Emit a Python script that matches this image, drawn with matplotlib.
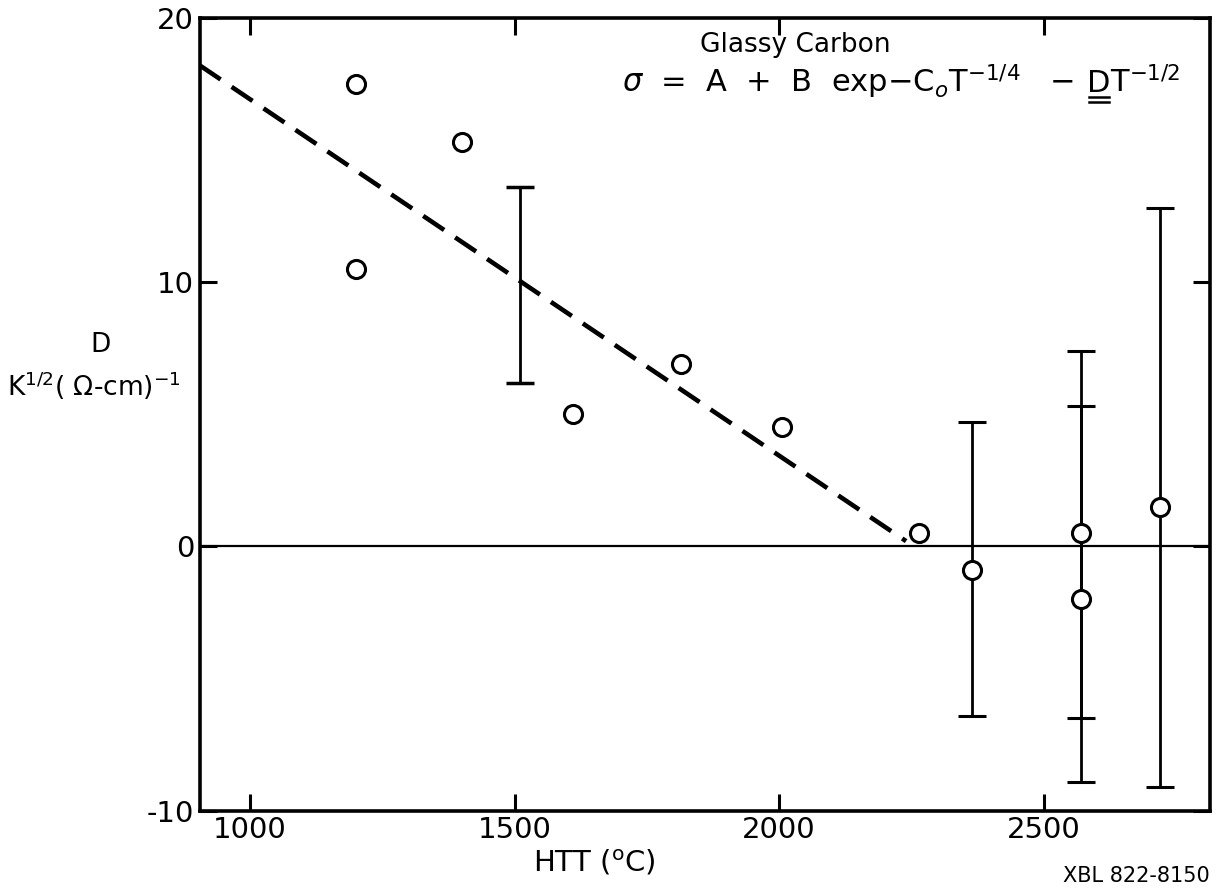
import matplotlib
matplotlib.use('Agg')
import matplotlib.pyplot as plt
from matplotlib.lines import Line2D

# HTT (C) and D values
htt_open = [1200, 1200, 1400, 1610, 1815, 2005, 2265]
d_open = [17.5, 10.5, 15.3, 5.0, 6.9, 4.5, 0.5]

htt_err = [2365, 2570, 2570, 2720]
d_err = [-0.9, 0.5, -2.0, 1.5]
err_low = [5.5, 7.0, 6.9, 10.6]
err_high = [5.6, 6.9, 7.3, 11.3]

# error bar with no point (on the fit line)
htt_bar = [1510]
d_bar = [9.9]
bar_size = [3.7]

fit_x = [905, 2240]
fit_y = [18.2, 0.2]

x_ticks = [1000, 1500, 2000, 2500]
y_ticks = [-10, 0, 10, 20]
y_ticklabels = ['-10', '0', '10', '20']

plt.rcParams['font.family'] = ['DejaVu Sans']

fig = plt.figure(figsize=(12.25, 8.88), dpi=100)
ax = fig.add_axes([0.163, 0.087, 0.825, 0.893])

ax.set_xlim(905, 2815)
ax.set_ylim(-10, 20)

ax.axhline(0, color='black', lw=1.6, zorder=1)
ax.plot(fit_x, fit_y, color='black', lw=3.3, dashes=(5.5, 2.9), zorder=2)

ax.errorbar(htt_bar, d_bar, yerr=bar_size, fmt='none', ecolor='black',
            elinewidth=2.0, capsize=10, capthick=2.5, zorder=3)
ax.errorbar(htt_err, d_err, yerr=[err_low, err_high], fmt='o', color='black',
            mfc='white', mec='black', mew=2.2, ms=13,
            elinewidth=2.0, capsize=10, capthick=2.5, zorder=3)
ax.plot(htt_open, d_open, 'o', mfc='white', mec='black', mew=2.2, ms=13,
        zorder=4)

for s in ax.spines.values():
    s.set_linewidth(2.6)

ax.set_xticks(x_ticks)
ax.set_xticklabels([str(t) for t in x_ticks])
ax.set_yticks(y_ticks)
ax.set_yticklabels(y_ticklabels)
ax.tick_params(direction='in', length=12, width=2.2, labelsize=21,
               top=True, right=True, pad=4)

fig.text(700 / 1225, 1 - 45 / 888, 'Glassy Carbon', fontsize=19,
         ha='left', va='center')

# formula in three pieces so the D can get its double underline
fig.canvas.draw()
rend = fig.canvas.get_renderer()
y_base = 1 - 92 / 888
t1 = fig.text(622 / 1225, y_base,
              r'$\sigma$  =  A  +  B  exp$-$C$_o$T$^{-1/4}$   $-$  ',
              fontsize=22, ha='left', va='baseline')
bb1 = t1.get_window_extent(rend)
t2 = fig.text(bb1.x1 / 1225, y_base, 'D', fontsize=22,
              ha='left', va='baseline')
bb2 = t2.get_window_extent(rend)
t3 = fig.text(bb2.x1 / 1225, y_base, r'T$^{-1/2}$', fontsize=22,
              ha='left', va='baseline')
base = 888 - 92
for dy in (5, 10):
    fig.add_artist(Line2D([bb2.x0 / 1225 + 0.002, bb2.x1 / 1225 - 0.001],
                          [(base - dy) / 888, (base - dy) / 888],
                          color='black', lw=1.8))

fig.text(0.082, 0.612, 'D', fontsize=19, ha='center', va='center')
fig.text(0.077, 0.566, r'K$^{1/2}$( $\Omega$-cm)$^{-1}$', fontsize=19,
         ha='center', va='center')
fig.text(0.485, 0.028, r'HTT ($^{\rm o}$C)', fontsize=21,
         ha='center', va='center')
fig.text(0.868, 0.002, 'XBL 822-8150', fontsize=15, ha='left', va='bottom')

fig.savefig('out.png', dpi=100)
